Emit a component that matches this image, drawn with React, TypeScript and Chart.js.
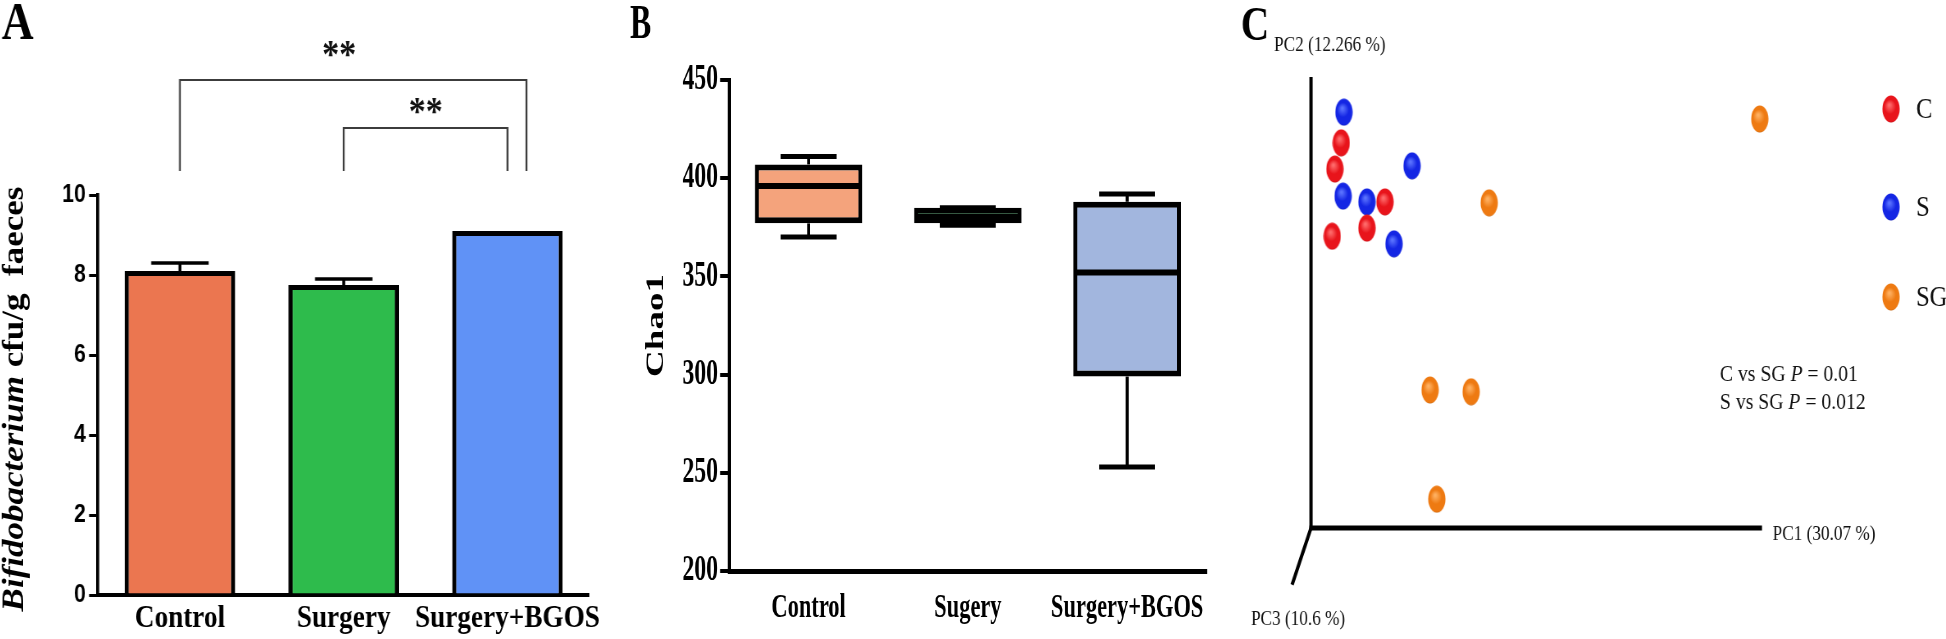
import React, { useEffect, useRef } from 'react';
import { Chart, registerables } from 'chart.js';

Chart.register(...registerables);

const SERIF = "'Liberation Serif', 'Times New Roman', Times, serif";
const SANS = "'Liberation Sans', Arial, Helvetica, sans-serif";
const FIG_H = 639;

// ---------- Panel A data ----------
const barCategories = ['Control', 'Surgery', 'Surgery+BGOS'];
const barMeans = [8.1, 7.75, 9.1];
const barErrors = [0.2, 0.15, 0];
const barColors = ['#EB7650', '#2EBB4C', '#6092F6'];
const barTicks = [0, 2, 4, 6, 8, 10];
const sigFrom = [0, 1];
const sigTo = [2, 2];
const sigLabels = ['**', '**'];
const barTitleItalic = 'Bifidobacterium';
const barTitleRest = ' cfu/g  faeces';

// ---------- Panel B data ----------
const boxCategories = ['Control', 'Sugery', 'Surgery+BGOS'];
const boxMin = [370, 376, 253];
const boxQ1 = [377, 377, 299];
const boxMedian = [396, 380.3, 352];
const boxQ3 = [407, 385, 388];
const boxMax = [411, 385, 392];
const boxColors = ['#F4A37C', '#1FA84B', '#A2B6DE'];
const boxTicks = [200, 250, 300, 350, 400, 450];
const boxTitle = 'Chao1';

// ---------- Panel C data ----------
const pcoaGroups = ['C', 'S', 'SG'];
const pc1_C = [6.7, 5.3, 16.4, 4.7, 12.4];
const pc2_C = [85.4, 79.6, 72.3, 64.7, 66.5];
const pc1_S = [7.3, 22.4, 7.1, 12.4, 18.4];
const pc2_S = [92.2, 80.3, 73.6, 72.3, 63.0];
const pc1_SG = [99.5, 39.5, 26.4, 35.5, 27.9];
const pc2_SG = [90.7, 72.1, 30.6, 30.2, 6.4];
const pcoaColors = ['#E8141B', '#1426E4', '#EE7A12'];
const pcoaLight = ['#FF6A6A', '#5A72FF', '#FFB060'];
const pcoaDark = ['#900008', '#0A0C7A', '#904200'];
const axisLabels = ['PC1 (30.07 %)', 'PC2 (12.266 %)', 'PC3 (10.6 %)'];
const statLines = [
  ['C vs SG ', 'P', ' = 0.01'],
  ['S vs SG ', 'P', ' = 0.012'],
];

// ---------- layout (screen px -> logical px of each squeezed canvas) ----------
const PA = { x0: 0, sx: 0.85, w: 729 };
const PB = { x0: 630, sx: 0.66, w: 917 };
const PC = { x0: 1240, sx: 0.82, w: 861 };

const letterPlugin = (txt: string, x: number, y: number, size: number) => ({
  id: 'letter' + txt,
  afterDraw(chart: any) {
    const ctx = chart.ctx;
    ctx.save();
    ctx.font = `bold ${size}px ${SERIF}`;
    ctx.fillStyle = '#000';
    ctx.textBaseline = 'alphabetic';
    ctx.textAlign = 'left';
    ctx.fillText(txt, x, y);
    ctx.restore();
  },
});

function line(ctx: CanvasRenderingContext2D, x1: number, y1: number, x2: number, y2: number) {
  ctx.beginPath();
  ctx.moveTo(x1, y1);
  ctx.lineTo(x2, y2);
  ctx.stroke();
}

// ---------------- Panel A ----------------
function buildA(): any {
  const sx = PA.sx;
  const left = 98 / sx;
  const right = 589 / sx;
  const errorBars = {
    id: 'errorBars',
    afterDatasetsDraw(chart: any) {
      const ctx = chart.ctx;
      const y = chart.scales.y;
      const meta = chart.getDatasetMeta(0);
      ctx.save();
      ctx.strokeStyle = '#000';
      meta.data.forEach((bar: any, i: number) => {
        const e = barErrors[i];
        if (!e) return;
        const top = y.getPixelForValue(barMeans[i] + e);
        const base = y.getPixelForValue(barMeans[i]);
        ctx.lineWidth = 3 / sx;
        line(ctx, bar.x, base, bar.x, top);
        ctx.lineWidth = 3.5;
        const hw = bar.width * 0.26;
        line(ctx, bar.x - hw, top, bar.x + hw, top);
      });
      ctx.restore();
    },
  };
  const brackets = {
    id: 'brackets',
    afterDraw(chart: any) {
      const { ctx } = chart;
      const x = chart.scales.x;
      const y = chart.scales.y;
      const levels = [12.875, 11.675];
      const starLevels = [13.675, 12.25];
      const rightShift = [0.116, 0];
      const starShift = [-14 / sx, 0];
      const drop = y.getPixelForValue(10.6);
      ctx.save();
      ctx.strokeStyle = '#3c3c3c';
      ctx.lineWidth = 2.2;
      sigFrom.forEach((from, k) => {
        const x1 = x.getPixelForValue(from);
        const x2 = x.getPixelForValue(sigTo[k] + rightShift[k]);
        const yy = y.getPixelForValue(levels[k]);
        ctx.beginPath();
        ctx.moveTo(x1, drop);
        ctx.lineTo(x1, yy);
        ctx.lineTo(x2, yy);
        ctx.lineTo(x2, drop);
        ctx.stroke();
        ctx.font = `bold 40px ${SERIF}`;
        ctx.fillStyle = '#111';
        ctx.textAlign = 'center';
        ctx.textBaseline = 'alphabetic';
        ctx.fillText(sigLabels[k], (x1 + x2) / 2 + starShift[k], y.getPixelForValue(starLevels[k]) + 19);
      });
      ctx.restore();
    },
  };
  const yTitle = {
    id: 'yTitleA',
    afterDraw(chart: any) {
      const { ctx, chartArea } = chart;
      const parts = [
        { t: barTitleItalic, f: `italic bold 35px ${SERIF}` },
        { t: barTitleRest, f: `bold 35px ${SERIF}` },
      ];
      ctx.save();
      ctx.translate(17.6, (chartArea.top + chartArea.bottom) / 2 + 4);
      ctx.rotate(-Math.PI / 2);
      let total = 0;
      parts.forEach((p) => {
        ctx.font = p.f;
        total += ctx.measureText(p.t).width;
      });
      let xx = -total / 2;
      ctx.textBaseline = 'middle';
      ctx.textAlign = 'left';
      ctx.fillStyle = '#000';
      parts.forEach((p) => {
        ctx.font = p.f;
        ctx.fillText(p.t, xx, 0);
        xx += ctx.measureText(p.t).width;
      });
      ctx.restore();
    },
  };
  return {
    type: 'bar',
    data: {
      labels: barCategories,
      datasets: [
        {
          data: barMeans,
          backgroundColor: barColors,
          borderColor: '#000',
          borderWidth: 5,
          borderSkipped: 'bottom',
          barPercentage: 0.675,
          categoryPercentage: 1,
        },
      ],
    },
    options: {
      animation: false,
      responsive: false,
      devicePixelRatio: 1,
      events: [],
      layout: { padding: { left: 0, right: PA.w - right, top: 195, bottom: 0 } },
      plugins: { legend: { display: false }, tooltip: { enabled: false } },
      scales: {
        x: {
          offset: true,
          grid: { display: false, drawTicks: false },
          border: { display: true, color: '#000', width: 4 },
          ticks: {
            color: '#000',
            font: { family: SERIF, size: 32, weight: 'bold' },
            padding: 5,
            maxRotation: 0,
            autoSkip: false,
          },
          afterFit: (s: any) => {
            s.height = FIG_H - 595;
          },
        },
        y: {
          min: 0,
          max: 10,
          afterBuildTicks: (s: any) => {
            s.ticks = barTicks.map((v) => ({ value: v }));
          },
          grid: {
            display: true,
            drawOnChartArea: false,
            drawTicks: true,
            tickLength: 10.5,
            color: '#000',
            lineWidth: 3,
          },
          border: { display: true, color: '#000', width: 3.6 },
          ticks: { color: '#000', font: { family: SANS, size: 25, weight: 'bold' }, padding: 4 },
          afterFit: (s: any) => {
            s.width = left;
          },
        },
      },
    },
    plugins: [errorBars, brackets, yTitle, letterPlugin('A', 2, 39, 52)],
  };
}

// ---------------- Panel B ----------------
function buildB(): any {
  const sx = PB.sx;
  const left = (729 - PB.x0) / sx;
  const right = (1207 - PB.x0) / sx;
  const whiskers = {
    id: 'whiskers',
    afterDatasetsDraw(chart: any) {
      const ctx = chart.ctx;
      const y = chart.scales.y;
      const meta = chart.getDatasetMeta(0);
      ctx.save();
      ctx.strokeStyle = '#000';
      ctx.lineCap = 'butt';
      meta.data.forEach((bar: any, i: number) => {
        const x = bar.x;
        const hw = bar.width / 2;
        const yMax = y.getPixelForValue(boxMax[i]);
        const yQ3 = y.getPixelForValue(boxQ3[i]);
        const yQ1 = y.getPixelForValue(boxQ1[i]);
        const yMin = y.getPixelForValue(boxMin[i]);
        const yMed = y.getPixelForValue(boxMedian[i]);
        ctx.lineWidth = 3 / sx;
        if (yMax < yQ3) line(ctx, x, yQ3, x, yMax);
        if (yMin > yQ1) line(ctx, x, yQ1, x, yMin);
        ctx.lineWidth = 5;
        const cw = bar.width * 0.26;
        line(ctx, x - cw, yMax, x + cw, yMax);
        line(ctx, x - cw, yMin, x + cw, yMin);
        ctx.lineWidth = 6;
        line(ctx, x - hw + 2, yMed, x + hw - 2, yMed);
      });
      ctx.restore();
    },
  };
  return {
    type: 'bar',
    data: {
      labels: boxCategories,
      datasets: [
        {
          data: boxQ1.map((q1, i) => [q1, boxQ3[i]]),
          backgroundColor: boxColors,
          borderColor: '#000',
          borderWidth: 6,
          borderSkipped: false,
          barPercentage: 0.675,
          categoryPercentage: 1,
        },
      ],
    },
    options: {
      animation: false,
      responsive: false,
      devicePixelRatio: 1,
      events: [],
      layout: { padding: { left: 0, right: PB.w - right, top: 80, bottom: 0 } },
      plugins: { legend: { display: false }, tooltip: { enabled: false } },
      scales: {
        x: {
          offset: true,
          grid: { display: false, drawTicks: false },
          border: { display: true, color: '#000', width: 5 },
          ticks: {
            color: '#000',
            font: { family: SERIF, size: 34, weight: 'bold' },
            padding: 17,
            maxRotation: 0,
            autoSkip: false,
          },
          afterFit: (s: any) => {
            s.height = FIG_H - 571;
          },
        },
        y: {
          min: 200,
          max: 450,
          afterBuildTicks: (s: any) => {
            s.ticks = boxTicks.map((v) => ({ value: v }));
          },
          grid: {
            display: true,
            drawOnChartArea: false,
            drawTicks: true,
            tickLength: 13.5,
            color: '#000',
            lineWidth: 4,
          },
          border: { display: true, color: '#000', width: 5 },
          ticks: { color: '#000', font: { family: SERIF, size: 36, weight: 'bold' }, padding: 3 },
          title: {
            display: true,
            text: boxTitle,
            color: '#000',
            font: { family: SERIF, size: 37, weight: 'bold' },
            padding: { top: 18, bottom: 0 },
          },
          afterFit: (s: any) => {
            s.width = left;
          },
        },
      },
    },
    plugins: [whiskers, letterPlugin('B', 0, 38, 48)],
  };
}

// ---------------- Panel C ----------------
function makeSphere(base: string, light: string, dark: string): HTMLCanvasElement {
  const c = document.createElement('canvas');
  c.width = 22;
  c.height = 28;
  const g = c.getContext('2d')!;
  const grad = g.createRadialGradient(9, 10, 1, 11, 14, 15);
  grad.addColorStop(0, light);
  grad.addColorStop(0.45, base);
  grad.addColorStop(0.85, base);
  grad.addColorStop(1, dark);
  g.fillStyle = grad;
  g.beginPath();
  g.ellipse(11, 14, 10.5, 13.5, 0, 0, Math.PI * 2);
  g.fill();
  return c;
}

function buildC(): any {
  const sx = PC.sx;
  const L = (sxScreen: number) => (sxScreen - PC.x0) / sx;
  const left = L(1311);
  const right = L(1762);
  const spheres = pcoaColors.map((c, i) => makeSphere(c, pcoaLight[i], pcoaDark[i]));
  const xs = [pc1_C, pc1_S, pc1_SG];
  const ys = [pc2_C, pc2_S, pc2_SG];
  const axes3d = {
    id: 'axes3d',
    beforeDatasetsDraw(chart: any) {
      const { ctx } = chart;
      const x = chart.scales.x;
      const y = chart.scales.y;
      const ox = x.getPixelForValue(0);
      const oy = y.getPixelForValue(0);
      ctx.save();
      ctx.strokeStyle = '#000';
      ctx.lineCap = 'butt';
      ctx.lineWidth = 4;
      line(ctx, ox, oy + 2, ox, y.getPixelForValue(100));
      ctx.lineWidth = 5;
      line(ctx, ox - 2, oy, x.getPixelForValue(100), oy);
      ctx.lineWidth = 4;
      line(ctx, ox, oy, x.getPixelForValue(-4.2), y.getPixelForValue(-12.6));
      ctx.fillStyle = '#111';
      ctx.font = `21px ${SERIF}`;
      ctx.textBaseline = 'middle';
      ctx.textAlign = 'left';
      ctx.fillText(axisLabels[0], x.getPixelForValue(100) + 13, oy + 6);
      ctx.fillText(axisLabels[1], L(1274), 45);
      ctx.fillText(axisLabels[2], L(1251), 619);
      ctx.restore();
    },
  };
  const legendAndStats = {
    id: 'legendStats',
    afterDraw(chart: any) {
      const { ctx } = chart;
      ctx.save();
      const ly = [109, 207, 297];
      pcoaGroups.forEach((g, i) => {
        const s = spheres[i];
        ctx.drawImage(s, L(1891) - s.width / 2, ly[i] - s.height / 2);
        ctx.fillStyle = '#111';
        ctx.font = `30px ${SERIF}`;
        ctx.textBaseline = 'middle';
        ctx.textAlign = 'left';
        ctx.fillText(g, L(1916), ly[i] + 1);
      });
      const sy = [375, 403];
      statLines.forEach((parts, k) => {
        let xx = L(1720);
        parts.forEach((p, j) => {
          ctx.font = j === 1 ? `italic 24px ${SERIF}` : `24px ${SERIF}`;
          ctx.fillText(p, xx, sy[k]);
          xx += ctx.measureText(p).width;
        });
      });
      ctx.restore();
    },
  };
  return {
    type: 'scatter',
    data: {
      datasets: pcoaGroups.map((g, i) => ({
        label: g,
        data: xs[i].map((v, j) => ({ x: v, y: ys[i][j] })),
        pointStyle: spheres[i],
        pointRadius: 12,
        clip: false,
      })),
    },
    options: {
      animation: false,
      responsive: false,
      devicePixelRatio: 1,
      events: [],
      layout: { padding: { left, right: PC.w - right, top: 77, bottom: FIG_H - 528 } },
      plugins: { legend: { display: false }, tooltip: { enabled: false } },
      scales: {
        x: { type: 'linear', min: 0, max: 100, display: false },
        y: { type: 'linear', min: 0, max: 100, display: false },
      },
    },
    plugins: [axes3d, legendAndStats, letterPlugin('C', 1, 40, 48)],
  };
}

function Panel({ x0, sx, w, build }: { x0: number; sx: number; w: number; build: () => any }) {
  const ref = useRef<HTMLCanvasElement>(null);
  useEffect(() => {
    const chart = new Chart(ref.current as HTMLCanvasElement, build());
    return () => chart.destroy();
  }, []);
  return (
    <canvas
      ref={ref}
      width={w}
      height={FIG_H}
      style={{ position: 'absolute', left: x0, top: 0, width: w * sx, height: FIG_H }}
    />
  );
}

export default function App() {
  return (
    <div
      style={{
        position: 'absolute',
        left: 0,
        top: 0,
        width: 1946,
        height: FIG_H,
        background: '#fff',
        overflow: 'hidden',
      }}
    >
      <Panel x0={PA.x0} sx={PA.sx} w={PA.w} build={buildA} />
      <Panel x0={PB.x0} sx={PB.sx} w={PB.w} build={buildB} />
      <Panel x0={PC.x0} sx={PC.sx} w={PC.w} build={buildC} />
    </div>
  );
}
